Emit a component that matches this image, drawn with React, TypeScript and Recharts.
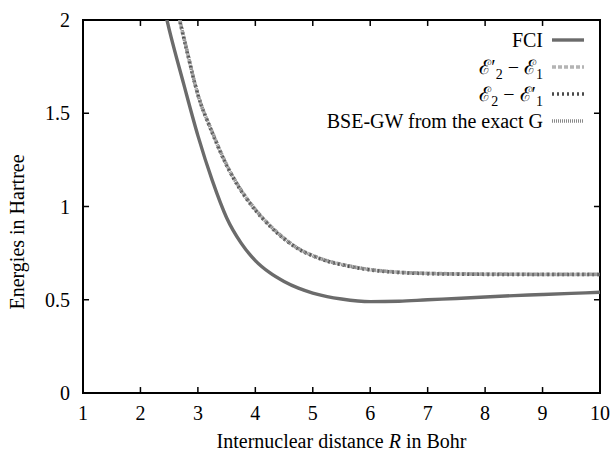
import React from 'react';
import { LineChart, Line, XAxis, YAxis, ReferenceArea, ReferenceLine, Customized } from 'recharts';

// internuclear distance R (Bohr) and energies (Hartree)
const fciR = [2.4, 2.5, 2.75, 3, 3.25, 3.5, 3.75, 4, 4.25, 4.5, 4.75, 5, 5.25, 5.5, 6, 6.5, 7, 7.5, 8, 8.5, 9, 9.5, 10];
const fciE = [2.08, 1.95, 1.66, 1.38, 1.14, 0.94, 0.805, 0.71, 0.645, 0.598, 0.562, 0.536, 0.517, 0.504, 0.49, 0.492, 0.5, 0.507, 0.515, 0.522, 0.528, 0.534, 0.54];

const excR = [2.6, 2.7, 2.8, 3, 3.25, 3.5, 3.75, 4, 4.25, 4.5, 4.75, 5, 5.25, 5.5, 6, 6.5, 7, 8, 9, 10];
const e2pMinusE1 = [2.13, 1.98, 1.85, 1.6, 1.4, 1.225, 1.09, 0.985, 0.9, 0.83, 0.775, 0.737, 0.709, 0.69, 0.662, 0.648, 0.642, 0.638, 0.637, 0.637];
const e2MinusE1p = [2.12, 1.975, 1.845, 1.6, 1.395, 1.22, 1.085, 0.98, 0.896, 0.826, 0.772, 0.735, 0.707, 0.688, 0.66, 0.646, 0.64, 0.636, 0.635, 0.635];
const bseGW = [2.125, 1.98, 1.848, 1.6, 1.398, 1.222, 1.088, 0.983, 0.898, 0.828, 0.774, 0.736, 0.708, 0.689, 0.661, 0.647, 0.641, 0.637, 0.636, 0.636];

const xTicks = [1, 2, 3, 4, 5, 6, 7, 8, 9, 10];
const yTicks = [0, 0.5, 1, 1.5, 2];
const xDomain = [1, 10];
const yDomain = [0, 2];

// one table on the union of R values; series missing a point get null
const allR = Array.from(new Set([...fciR, ...excR])).sort((a, b) => a - b);
const pick = (rs: number[], es: number[], r: number) => {
  const i = rs.indexOf(r);
  return i < 0 ? null : es[i];
};
const data = allR.map((r) => ({
  r,
  fci: pick(fciR, fciE, r),
  e2pE1: pick(excR, e2pMinusE1, r),
  e2E1p: pick(excR, e2MinusE1p, r),
  bse: pick(excR, bseGW, r),
}));

const series = [
  { key: 'fci', stroke: '#6b6b6b', width: 3.4, dash: undefined },
  { key: 'e2pE1', stroke: '#b4b4b4', width: 3.5, dash: '4 2' },
  { key: 'e2E1p', stroke: '#4a4a4a', width: 3.5, dash: '2 3' },
  { key: 'bse', stroke: '#8a8a8a', width: 3.5, dash: '1 1' },
];

const FONT = '"Liberation Serif", "DejaVu Serif", serif';
// inward tick length, in data units (about 6px on each axis)
const X_TICK_LEN = 0.032;
const Y_TICK_LEN = 0.105;

const legendText = (key: string) => {
  if (key === 'e2pE1')
    return (
      <>
        ℰ′<tspan dy={5} fontSize={14}>2</tspan>
        <tspan dy={-5}> − ℰ</tspan>
        <tspan dy={5} fontSize={14}>1</tspan>
      </>
    );
  if (key === 'e2E1p')
    return (
      <>
        ℰ<tspan dy={5} fontSize={14}>2</tspan>
        <tspan dy={-5}> − ℰ′</tspan>
        <tspan dy={5} fontSize={14}>1</tspan>
      </>
    );
  if (key === 'bse') return 'BSE-GW from the exact G';
  return 'FCI';
};

// key box in the top right corner, rows 27px apart
const LegendBox = () => (
  <g fontFamily={FONT} fontSize={20} fill="#000">
    {series.map((s, i) => {
      const y = 40 + i * 27;
      return (
        <g key={s.key}>
          <text x={543} y={y} dy="0.35em" textAnchor="end">
            {legendText(s.key)}
          </text>
          <line x1={552} x2={584} y1={y} y2={y} stroke={s.stroke} strokeWidth={s.width} strokeDasharray={s.dash} />
        </g>
      );
    })}
  </g>
);

export default function App() {
  return (
    <div style={{ fontFamily: FONT, width: 616, height: 454 }}>
      <style>{'body{margin:0}'}</style>
      <LineChart width={616} height={454} data={data} margin={{ top: 20, right: 16, bottom: 0, left: 0 }}>
        <XAxis
          dataKey="r"
          type="number"
          domain={xDomain}
          ticks={xTicks}
          height={61}
          tickLine={false}
          tickSize={0}
          tickMargin={13}
          stroke="#000"
          strokeWidth={2}
          tick={{ fill: '#000', fontSize: 20 }}
          label={{
            content: (p: any) => {
              const vb = p.viewBox;
              return (
                <text x={vb.x + vb.width / 2} y={vb.y + vb.height - 6} textAnchor="middle" fontSize={20} fill="#000">
                  Internuclear distance <tspan fontStyle="italic">R</tspan> in Bohr
                </text>
              );
            },
          }}
        />
        <YAxis
          type="number"
          domain={yDomain}
          ticks={yTicks}
          allowDataOverflow
          width={83}
          tickLine={false}
          tickSize={0}
          tickMargin={13}
          stroke="#000"
          strokeWidth={2}
          tick={{ fill: '#000', fontSize: 20 }}
          label={{
            content: () => (
              <text x={17} y={232} transform="rotate(-90 17 232)" textAnchor="middle" dominantBaseline="central" fontSize={20} fill="#000">
                Energies in Hartree
              </text>
            ),
          }}
        />
        {/* plot frame */}
        <ReferenceArea
          x1={xDomain[0]}
          x2={xDomain[1]}
          y1={yDomain[0]}
          y2={yDomain[1]}
          fill="none"
          stroke="#000"
          strokeWidth={2}
          ifOverflow="visible"
        />
        {/* mirrored inward ticks */}
        {xTicks.map((t) => (
          <ReferenceLine key={`xb${t}`} ifOverflow="visible" segment={[{ x: t, y: yDomain[0] }, { x: t, y: yDomain[0] + X_TICK_LEN }]} stroke="#000" strokeWidth={1.5} />
        ))}
        {xTicks.map((t) => (
          <ReferenceLine key={`xt${t}`} ifOverflow="visible" segment={[{ x: t, y: yDomain[1] }, { x: t, y: yDomain[1] - X_TICK_LEN }]} stroke="#000" strokeWidth={1.5} />
        ))}
        {yTicks.map((t) => (
          <ReferenceLine key={`yl${t}`} ifOverflow="visible" segment={[{ x: xDomain[0], y: t }, { x: xDomain[0] + Y_TICK_LEN, y: t }]} stroke="#000" strokeWidth={1.5} />
        ))}
        {yTicks.map((t) => (
          <ReferenceLine key={`yr${t}`} ifOverflow="visible" segment={[{ x: xDomain[1], y: t }, { x: xDomain[1] - Y_TICK_LEN, y: t }]} stroke="#000" strokeWidth={1.5} />
        ))}
        {series.map((s) => (
          <Line
            key={s.key}
            dataKey={s.key}
            type="monotone"
            connectNulls
            stroke={s.stroke}
            strokeWidth={s.width}
            strokeDasharray={s.dash}
            dot={false}
            activeDot={false}
            isAnimationActive={false}
          />
        ))}
        <Customized component={<LegendBox />} />
      </LineChart>
    </div>
  );
}
